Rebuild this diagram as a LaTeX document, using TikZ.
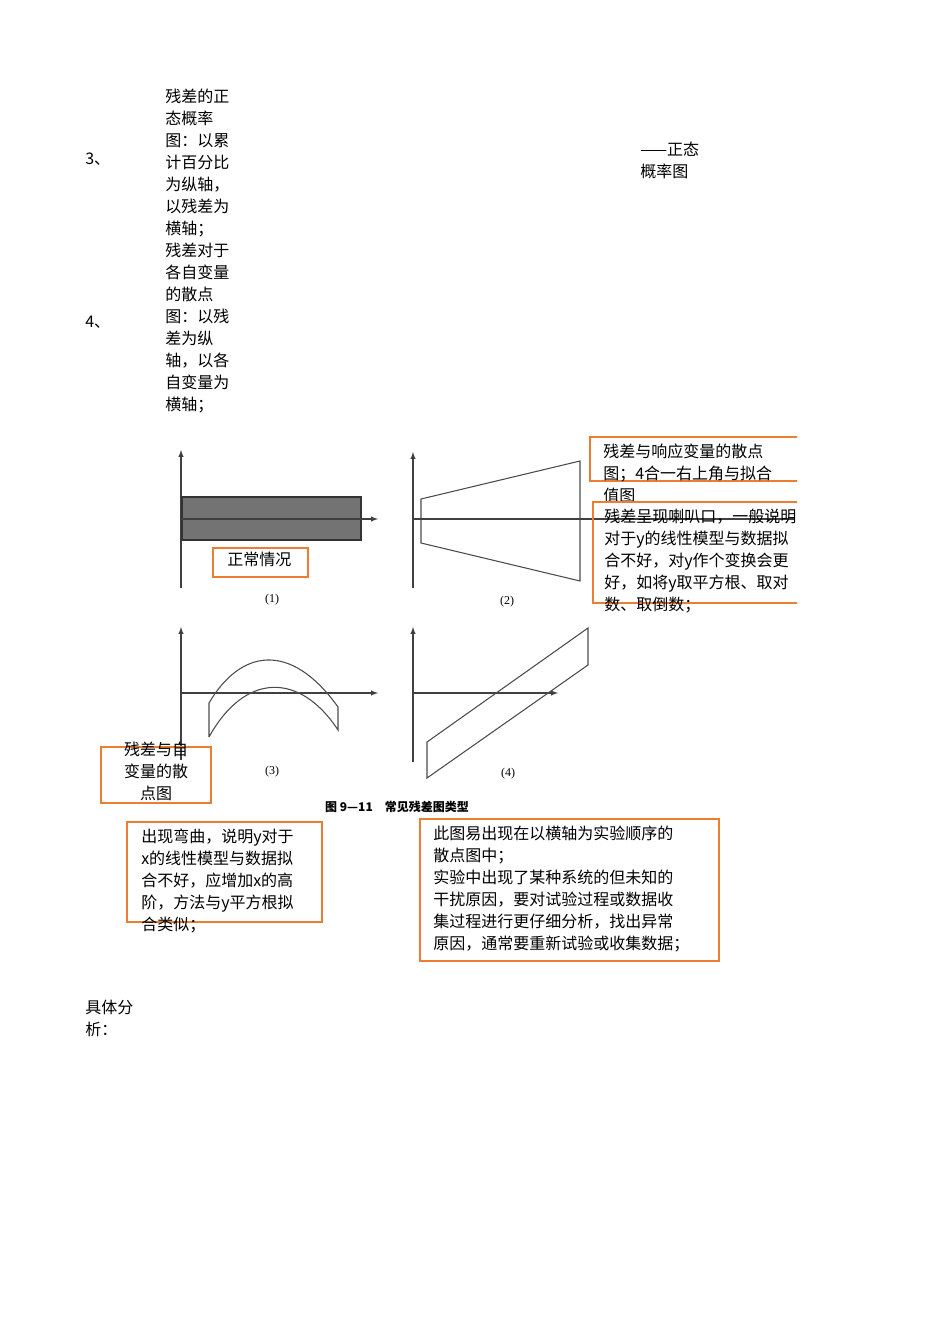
\documentclass[tikz,border=0pt]{standalone}
\usepackage{fontspec}
\setmainfont{Liberation Serif}
\newfontfamily\cjk{Noto Sans CJK SC}
\definecolor{org}{HTML}{ED7D31}
\begin{document}
\begin{tikzpicture}[x=0.75pt,y=-0.75pt,
  txt/.style={anchor=north west,inner sep=0pt,align=left,font=\cjk\fontsize{12}{16.5}\selectfont},
  obox/.style={draw=org,line width=2pt},
  ax/.style={draw=black!75,line width=0.8pt,-latex},
  shp/.style={draw=black!70,line width=0.8pt}]
\useasboundingbox (0,0) rectangle (950,1344);
\fill[white] (0,0) rectangle (950,1344);
% left column
\node[txt] (t3) at (165,89) {残差的正\\态概率\\图：以累\\计百分比\\为纵轴，\\以残差为\\横轴；\\残差对于\\各自变量\\的散点\\图：以残\\差为纵\\轴，以各\\自变量为\\横轴；};
\node[txt] (n3) at (85,153) {3、};
\node[txt] (n4) at (85,316) {4、};
\node[txt] (zt) at (640,142) {——正态\\概率图};
% plot 1
\draw[ax] (181,588) -- (181,450);
\fill[black!55] (182,497) rectangle (361,540);
\draw[black!80,line width=0.8pt] (182,497) rectangle (361,540);
\draw[ax] (181,519) -- (378,519);
\node (l1) at (272,600) {\small(1)};
% plot 2
\draw[ax] (413,588) -- (413,452);
\draw[shp] (421,499) -- (580,461) -- (580,581) -- (421,543) -- cycle;
\draw[black!75,line width=0.8pt] (413,519) -- (795,519);
\node (l2) at (507,602) {\small(2)};
% plot 3
\draw[ax] (181,760) -- (181,627);
\draw[ax] (181,693) -- (378,693);
\draw[shp] (209,737) -- (209,703) .. controls (240,650) and (290,640) .. (338,707) -- (338,730) .. controls (300,672) and (245,672) .. (209,737);
\node (l3) at (272,772) {\small(3)};
% plot 4
\draw[ax] (413,762) -- (413,627);
\draw[ax] (413,693) -- (558,693);
\draw[shp] (427,742) -- (588,628) -- (588,665) -- (427,778) -- cycle;
\node (l4) at (508,774) {\small(4)};
\node (cap) at (397,807) {\cjk\bfseries\small 图 9—11\quad 常见残差图类型};
% orange boxes
\draw[obox] (213,548) rectangle (308,577);
\node[txt] (zc) at (227,552) {正常情况};
\begin{scope}
\clip (585,430) rectangle (797,620);
\draw[obox] (590,437) rectangle (800,481);
\node[txt] (r1) at (603,444) {残差与响应变量的散点\\图；4合一右上角与拟合\\值图};
\draw[obox] (593,502) rectangle (800,603);
\node[txt] (r2) at (604,509) {残差呈现喇叭口，一般说明\\对于y的线性模型与数据拟\\合不好，对y作个变换会更\\好，如将y取平方根、取对\\数、取倒数；};
\end{scope}
\draw[obox] (101,747) rectangle (211,803);
\node[txt,align=center,anchor=north] (zb) at (156,742) {残差与自\\变量的散\\点图};
\draw[obox] (127,822) rectangle (322,922);
\node[txt] (wq) at (141,829) {出现弯曲，说明y对于\\x的线性模型与数据拟\\合不好，应增加x的高\\阶，方法与y平方根拟\\合类似；};
\draw[obox] (420,819) rectangle (719,961);
\node[txt] (sy) at (433,826) {此图易出现在以横轴为实验顺序的\\散点图中；\\实验中出现了某种系统的但未知的\\干扰原因，要对试验过程或数据收\\集过程进行更仔细分析，找出异常\\原因，通常要重新试验或收集数据；};
\node[txt] (jt) at (85,1000) {具体分\\析：};
\end{tikzpicture}
\end{document}
